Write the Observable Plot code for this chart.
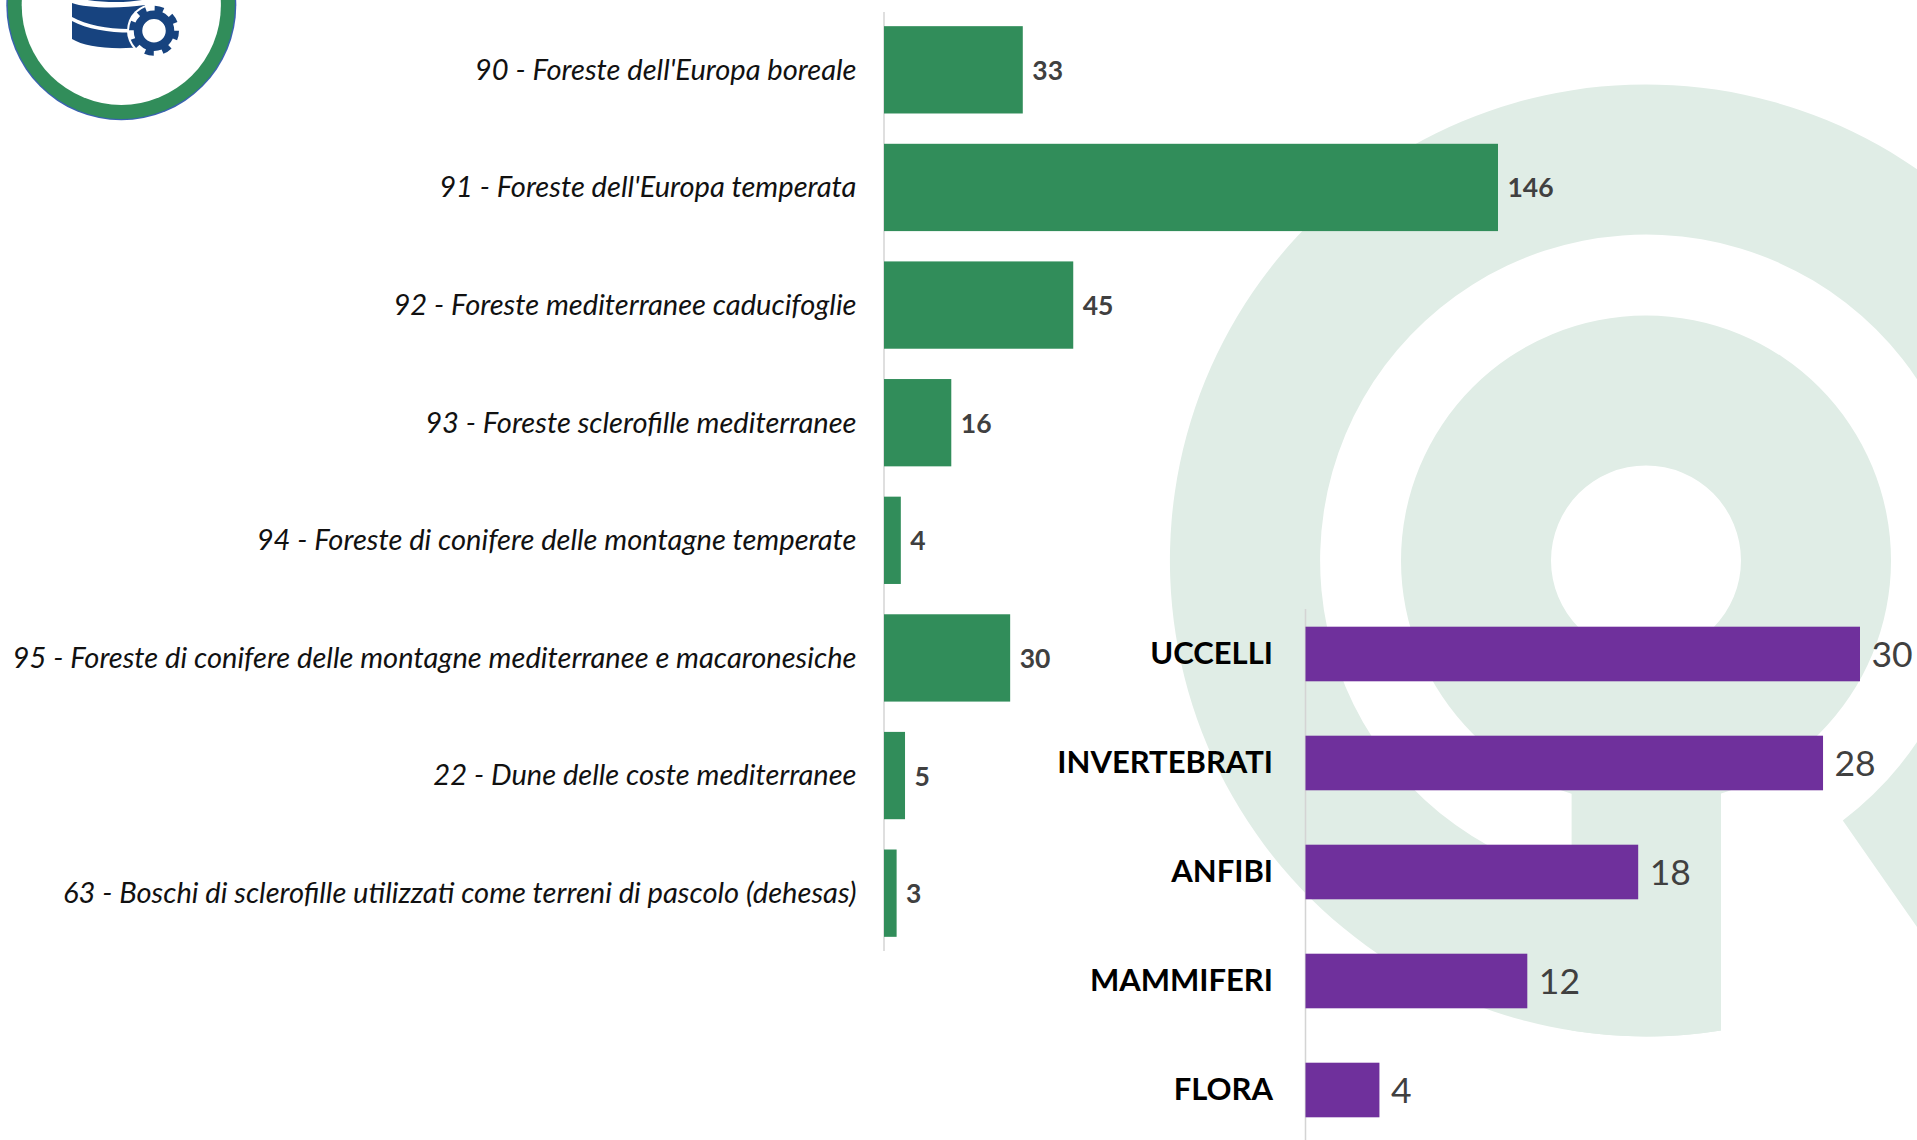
<!DOCTYPE html>
<html lang="it">
<head>
<meta charset="utf-8">
<script src="https://cdn.jsdelivr.net/npm/d3@7"></script>
<script src="https://cdn.jsdelivr.net/npm/@observablehq/plot@0.6"></script>
<style>
html,body{margin:0;padding:0;background:#fff;overflow:hidden;}
#page{position:relative;width:1917px;height:1140px;overflow:hidden;}
#page svg{position:absolute;left:0;top:0;max-width:none;}
</style>
</head>
<body>
<div id="page">
<svg id="bg" width="1917" height="1140" viewBox="0 0 1917 1140" aria-hidden="true">
  <g fill="#e0ede6">
    <path d="M1721,1030.5 A476,476 0 1 1 1928.5,943.5 L1842.8,820.5 A326,326 0 1 0 1721,877.8 Z"/>
    <path fill-rule="evenodd" d="M1401,560.5 A245,245 0 1 1 1891,560.5 A245,245 0 1 1 1401,560.5 Z M1551,560.5 A95,95 0 1 0 1741,560.5 A95,95 0 1 0 1551,560.5 Z"/>
    <path d="M1571.6,785 H1721 V1030.5 A476,476 0 0 1 1571.6,1030.6 Z"/>
  </g>
  <circle cx="121.3" cy="5.3" r="115" fill="#3a62b0"/>
  <circle cx="121.3" cy="5.3" r="113.6" fill="#318d5a"/>
  <circle cx="121.3" cy="5.3" r="99.6" fill="#ffffff"/>
  <g fill="#17437f">
    <path d="M76,-2 H142 V0 C125,3 100,3 76,-2 Z"/>
    <path d="M72,3 C85,8 120,9 145,5 V28 C120,31 90,27 72,17 Z"/>
    <path d="M72,21 C90,31 120,34 145,32 V47 C110,50 85,47 72,39 Z"/>
  </g>
  <circle cx="154" cy="30.7" r="27" fill="#ffffff"/>
  <circle cx="154" cy="30.7" r="16" fill="none" stroke="#17437f" stroke-width="8.5"/>
  <circle cx="154" cy="30.7" r="22" fill="none" stroke="#17437f" stroke-width="6" stroke-dasharray="8.64 8.64"/>
</svg>
</div>
<script>
const habitatLabels = [
  "90 - Foreste dell'Europa boreale",
  "91 - Foreste dell'Europa temperata",
  "92 - Foreste mediterranee caducifoglie",
  "93 - Foreste sclerofille mediterranee",
  "94 - Foreste di conifere delle montagne temperate",
  "95 - Foreste di conifere delle montagne mediterranee e macaronesiche",
  "22 - Dune delle coste mediterranee",
  "63 - Boschi di sclerofille utilizzati come terreni di pascolo (dehesas)"
];
const habitatValues = [33, 146, 45, 16, 4, 30, 5, 3];
const groupLabels = ["UCCELLI", "INVERTEBRATI", "ANFIBI", "MAMMIFERI", "FLORA"];
const groupValues = [30, 28, 18, 12, 4];

const FONT = "Lato, 'Open Sans', sans-serif";
const habitats = habitatLabels.map((label, i) => ({label, value: habitatValues[i]}));
const groups = groupLabels.map((label, i) => ({label, value: groupValues[i]}));
const page = document.getElementById("page");

page.append(Plot.plot({
  width: 1917, height: 951,
  marginLeft: 0, marginRight: 0, marginTop: 12, marginBottom: 0,
  style: {background: "transparent", fontFamily: FONT},
  x: {domain: [0, 146], range: [884, 1498], axis: null},
  y: {domain: habitatLabels, range: [11, 952], round: false, paddingInner: 0.2577, paddingOuter: 0.129, label: null},
  marks: [
    Plot.ruleX([0], {stroke: "#d4d4d4", strokeWidth: 1.5, dx: -0.5}),
    Plot.barX(habitats, {x: "value", y: "label", fill: "#318d5a"}),
    Plot.axisY({tickSize: 0, tickPadding: 28, fontSize: 29.1, fontStyle: "italic", fill: "#111", label: null, anchor: "left", textAnchor: "end", x: 0}),
    Plot.text(habitats, {x: "value", y: "label", text: d => String(d.value), dx: 9, dy: 1, textAnchor: "start", fontSize: 26.5, fontWeight: "bold", fill: "#404040"})
  ]
}));

page.append(Plot.plot({
  width: 1917, height: 1140,
  marginLeft: 0, marginRight: 0, marginTop: 609, marginBottom: 0,
  style: {background: "transparent", fontFamily: FONT},
  x: {domain: [0, 30], range: [1305.5, 1860], axis: null},
  y: {domain: groupLabels, range: [599.5, 1144.5], round: false, paddingInner: 0.4991, paddingOuter: 0.2495, label: null},
  marks: [
    Plot.ruleX([0], {stroke: "#d4d4d4", strokeWidth: 1.5, dx: -0.5}),
    Plot.barX(groups, {x: "value", y: "label", fill: "#6f309c"}),
    Plot.axisY({tickSize: 0, tickPadding: 33, fontSize: 31, fontWeight: "bold", fill: "#000", label: null, anchor: "left", textAnchor: "end", x: 0}),
    Plot.text(groups, {x: "value", y: "label", text: d => String(d.value), dx: 11, dy: 1, textAnchor: "start", fontSize: 35.5, fill: "#404040"})
  ]
}));
</script>
</body>
</html>
